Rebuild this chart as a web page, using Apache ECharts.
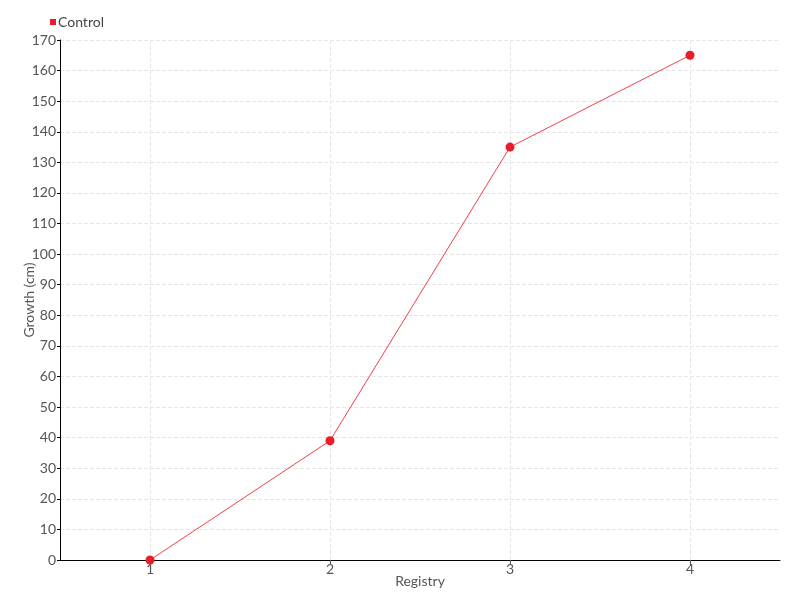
<!DOCTYPE html>
<html><head><meta charset="utf-8">
<script src="https://cdn.jsdelivr.net/npm/echarts@6/dist/echarts.min.js"></script>
<style>html,body{margin:0;padding:0;background:#fff}#c{width:800px;height:600px}</style>
</head><body><div id="c"></div>
<script>
const categories = ['1', '2', '3', '4'];
const controlValues = [0, 39, 135, 165];
const seriesName = 'Control';
const FONT = 'Lato, "Liberation Sans Narrow", sans-serif';
const chart = echarts.init(document.getElementById('c'), null, {renderer: 'canvas'});
chart.setOption({
  animation: false,
  textStyle: {fontFamily: FONT},
  legend: {
    data: [seriesName], left: 45, top: 10, icon: 'rect', itemWidth: 6, itemHeight: 6, itemGap: 4,
    textStyle: {fontFamily: FONT, fontSize: 14, color: '#444', padding: [0, 0, 0, -3]}
  },
  grid: {left: 60, right: 20, top: 40, bottom: 40, containLabel: false},
  xAxis: {
    type: 'category', data: categories, boundaryGap: true,
    name: 'Registry', nameLocation: 'middle', nameGap: 14, nameMoveOverlap: false,
    nameTextStyle: {fontFamily: FONT, fontSize: 14, color: '#555'},
    axisLine: {lineStyle: {color: '#000', width: 1}},
    axisTick: {show: true, alignWithLabel: true, length: 5, lineStyle: {color: '#555'}},
    axisLabel: {fontFamily: FONT, fontSize: 14, color: '#555', margin: 2},
    splitLine: {show: true, alignWithLabel: true, lineStyle: {type: 'dashed', color: '#e6e6e6'}}
  },
  yAxis: {
    type: 'value', min: 0, max: 170, interval: 10,
    name: 'Growth (cm)', nameLocation: 'middle', nameGap: 24, nameMoveOverlap: false,
    nameTextStyle: {fontFamily: FONT, fontSize: 14, color: '#555'},
    axisLine: {show: true, lineStyle: {color: '#000', width: 1}},
    axisTick: {show: true, length: 3, lineStyle: {color: '#000'}},
    axisLabel: {fontFamily: FONT, fontSize: 14, color: '#555', margin: 4},
    splitLine: {show: true, lineStyle: {type: 'dashed', color: '#e6e6e6'}}
  },
  series: [{
    name: seriesName, type: 'line', data: controlValues,
    symbol: 'circle', symbolSize: 9,
    itemStyle: {color: '#e81d2a'},
    lineStyle: {color: '#f0414c', width: 1}
  }]
});
</script></body></html>
